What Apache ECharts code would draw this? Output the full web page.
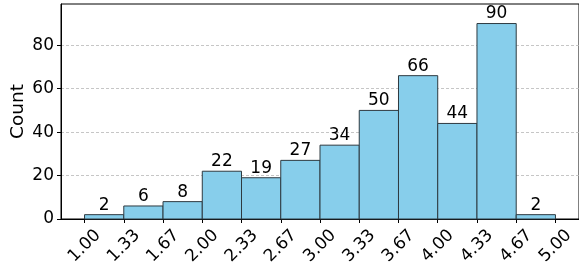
<!DOCTYPE html>
<html>
<head>
<meta charset="utf-8">
<script src="https://cdn.jsdelivr.net/npm/echarts@6/dist/echarts.min.js"></script>
<style>
  html, body { margin: 0; padding: 0; background: #fff; }
  #chart { width: 579px; height: 271px; }
</style>
</head>
<body>
<div id="chart"></div>
<script>
  // bin edges and counts
  const binEdges = [1.0, 4/3, 5/3, 2.0, 7/3, 8/3, 3.0, 10/3, 11/3, 4.0, 13/3, 14/3, 5.0];
  const counts = [2, 6, 8, 22, 19, 27, 34, 50, 66, 44, 90, 2];
  const yTicks = [0, 20, 40, 60, 80];

  const bins = counts.map((c, i) => [binEdges[i], binEdges[i + 1], c]);
  const fontFam = '"DejaVu Sans", sans-serif';

  const chart = echarts.init(document.getElementById('chart'));
  chart.setOption({
    animation: false,
    grid: {
      left: 61, right: 0, top: 4, bottom: 52,
      outerBoundsMode: 'none',
      containLabel: false,
      show: true, borderColor: '#000', borderWidth: 1
    },
    xAxis: {
      type: 'value',
      min: 0.8, max: 5.2,
      splitLine: { show: false },
      axisLine: { show: true, onZero: false, lineStyle: { color: '#000' } },
      axisTick: {
        show: true, length: 4, customValues: binEdges,
        lineStyle: { color: '#000' }
      },
      axisLabel: {
        customValues: binEdges,
        rotate: 45,
        align: 'center',
        verticalAlign: 'middle',
        margin: 27,
        fontSize: 17,
        fontFamily: fontFam,
        color: '#000',
        formatter: v => v.toFixed(2)
      }
    },
    yAxis: {
      type: 'value',
      min: 0, max: 99, interval: 20,
      name: 'Count',
      nameLocation: 'middle',
      nameGap: 33,
      nameMoveOverlap: false,
      nameTextStyle: { fontSize: 18.5, fontFamily: fontFam, color: '#000' },
      axisLine: { show: true, lineStyle: { color: '#000' } },
      axisTick: { show: true, length: 4, customValues: yTicks, lineStyle: { color: '#000' } },
      axisLabel: {
        customValues: yTicks,
        margin: 7, fontSize: 17, fontFamily: fontFam, color: '#000'
      },
      splitLine: {
        show: true,
        lineStyle: { color: '#b8b8b8', type: [3, 2], width: 0.8 }
      }
    },
    series: [{
      type: 'custom',
      data: bins,
      encode: { x: [0, 1], y: 2 },
      renderItem: (params, api) => {
        const p0 = api.coord([api.value(0), 0]);
        const p1 = api.coord([api.value(1), api.value(2)]);
        return {
          type: 'group',
          children: [{
            type: 'rect',
            shape: { x: p0[0], y: p1[1], width: p1[0] - p0[0], height: p0[1] - p1[1] },
            style: { fill: '#87CEEB', stroke: '#2e3a40', lineWidth: 1 }
          }, {
            type: 'text',
            style: {
              text: String(api.value(2)),
              x: (p0[0] + p1[0]) / 2, y: p1[1] - 1,
              align: 'center', verticalAlign: 'bottom',
              fontSize: 17, fontFamily: fontFam, fill: '#000'
            }
          }]
        };
      }
    }]
  });
</script>
</body>
</html>
